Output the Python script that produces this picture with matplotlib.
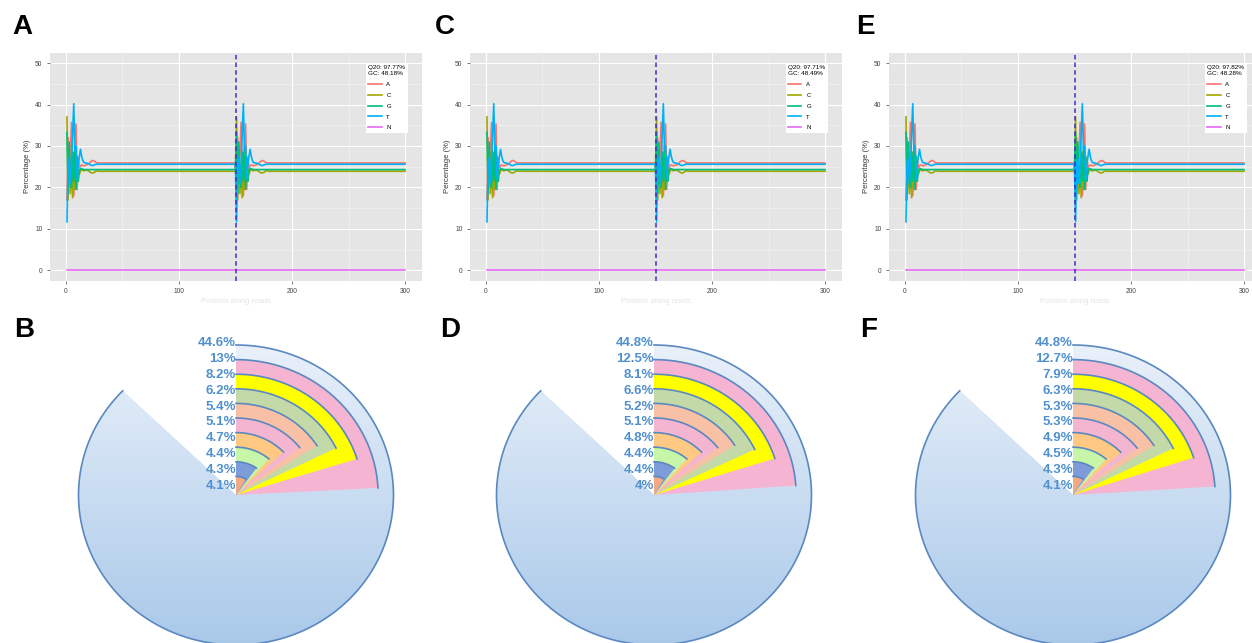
import numpy as np
import matplotlib.pyplot as plt
from matplotlib.path import Path
from matplotlib.colors import LinearSegmentedColormap

# ---------------- data ----------------
# base composition (%) over the first 30 cycles of one read, then flat
head_A = [17.0, 32.0, 22.5, 28.0, 35.7, 22.0, 18.0, 24.5, 35.3, 19.5,
          27.0, 24.8, 25.3, 25.4, 25.3, 25.2, 25.3, 25.4, 25.5, 25.6,
          25.9, 26.2, 26.4, 26.5, 26.4, 26.2, 26.0, 25.9, 25.9, 25.9]
head_C = [37.0, 17.0, 29.0, 18.5, 26.0, 17.5, 28.5, 19.5, 27.0, 21.5,
          24.5, 23.2, 24.0, 24.3, 24.1, 24.0, 24.1, 24.2, 24.1, 24.0,
          23.8, 23.6, 23.5, 23.5, 23.6, 23.8, 24.0, 24.0, 23.9, 23.9]
head_G = [33.3, 18.5, 31.0, 22.5, 20.0, 28.5, 21.5, 30.0, 19.5, 27.5,
          21.5, 24.0, 24.6, 24.5, 24.4, 24.3, 24.3, 24.3, 24.3, 24.3,
          24.3, 24.3, 24.3, 24.3, 24.3, 24.3, 24.3, 24.3, 24.3, 24.3]
head_T = [11.7, 26.0, 27.0, 21.0, 25.5, 33.0, 40.2, 29.0, 30.0, 22.0,
          25.5, 27.5, 29.2, 27.5, 26.5, 26.0, 25.9, 25.9, 25.8, 25.7,
          25.6, 25.4, 25.3, 25.3, 25.4, 25.5, 25.6, 25.6, 25.6, 25.6]
plateau = {'A': 25.9, 'C': 23.9, 'G': 24.3, 'T': 25.6}
read_len = 150

q20_labels = ['Q20: 97.77%', 'Q20: 97.71%', 'Q20: 97.82%']
gc_labels = ['GC: 48.18%', 'GC: 48.49%', 'GC: 48.28%']

# radial charts (largest first)
pie_B = [44.6, 13, 8.2, 6.2, 5.4, 5.1, 4.7, 4.4, 4.3, 4.1]
pie_D = [44.8, 12.5, 8.1, 6.6, 5.2, 5.1, 4.8, 4.4, 4.4, 4]
pie_F = [44.8, 12.7, 7.9, 6.3, 5.3, 5.3, 4.9, 4.5, 4.3, 4.1]

# ---------------- styles ----------------
base_colors = {'A': '#F8766D', 'C': '#A3A500', 'G': '#00BF7D',
               'T': '#00B0F6', 'N': '#E76BF3'}
ring_colors = ['#F5B5D2', '#FFFF00', '#C4D9A8', '#F8C1A5', '#F4B5D1',
               '#FFC983', '#C7F6A8', '#7D9CD9', '#F3A984']
arc_color = '#5A88C0'
label_color = '#5090CF'

W, H = 1252, 643
fig = plt.figure(figsize=(W / 100, H / 100), dpi=100)
plt.rcParams['font.family'] = ['Liberation Sans', 'DejaVu Sans']


def full_read(head, flat):
    one = np.concatenate([head, np.full(read_len - len(head), flat)])
    return np.concatenate([one, one])


series = {b: full_read(h, plateau[b]) for b, h in
          zip('ACGT', [head_A, head_C, head_G, head_T])}
series['N'] = np.zeros(2 * read_len)
pos = np.arange(1, 2 * read_len + 1)

# ---------------- line charts (A, C, E) ----------------
panel_left = [50, 470, 889]
for k in range(3):
    ax = fig.add_axes([panel_left[k] / W, (H - 280.7) / H, 372 / W, 228 / H])
    ax.set_facecolor('#E5E5E5')
    for b in 'ACGTN':
        ax.plot(pos, series[b], color=base_colors[b], lw=1.2, label=b)
    ax.axvline(read_len + 0.5, color='#3B2FC8', lw=1.1, ls=(0, (3, 2)))
    ax.set_xlim(-14, 315)
    ax.set_ylim(-2.5, 52.5)
    ax.set_xticks([0, 100, 200, 300])
    ax.set_yticks([0, 10, 20, 30, 40, 50])
    ax.set_xticks([50, 150, 250], minor=True)
    ax.set_yticks([5, 15, 25, 35, 45], minor=True)
    ax.grid(True, which='major', color='white', lw=0.8)
    ax.grid(True, which='minor', color='#F2F2F2', lw=0.5)
    ax.set_axisbelow(True)
    for s in ax.spines.values():
        s.set_visible(False)
    ax.tick_params(labelsize=4.8, colors='#444444', length=2, width=0.5)
    ax.tick_params(which='minor', length=0)
    ax.set_ylabel('Percentage (%)', fontsize=5.5, color='#333333', labelpad=3)
    ax.set_xlabel('Position along reads', fontsize=5.5, color='#E4E4E4', labelpad=2)
    leg = ax.legend(title=q20_labels[k] + '\n' + gc_labels[k], loc='upper right',
                    bbox_to_anchor=(0.962, 0.955), fontsize=4.3, title_fontsize=4.6,
                    frameon=True, fancybox=False, framealpha=1, edgecolor='none',
                    handlelength=2.2, labelspacing=0.95, borderaxespad=0)
    leg._legend_box.align = 'left'

# ---------------- radial charts (B, D, F) ----------------
grad_cmap = LinearSegmentedColormap.from_list('bg', ['#EAF1FA', '#A8C8E9'])
centers = [236, 654, 1073]
rmax = 155
stretch = 1.05
r_outer, r_step = 150, 14.6
bg_gap = 46  # degrees left empty in the background sector

for k, vals in enumerate([pie_B, pie_D, pie_F]):
    cx = centers[k]
    hw = rmax * stretch
    ax = fig.add_axes([(cx - hw) / W, (H - 495 - rmax) / H, 2 * hw / W, 2 * rmax / H],
                      projection='polar')
    ax.set_aspect('auto')
    ax.set_theta_zero_location('N')
    ax.set_theta_direction(-1)
    ax.set_ylim(0, rmax)
    ax.set_autoscale_on(False)
    ax.axis('off')

    n = len(vals)
    for i, v in enumerate(vals):
        rad = r_outer - r_step * i
        if i == 0:
            sweep = np.deg2rad(360 - bg_gap)
            ax.bar(0, rad, width=sweep, align='edge', color='#C8DBF0',
                   edgecolor='none', zorder=1)
            th = np.linspace(0, sweep, 300)
            verts = [(0, 0)] + list(zip(th, np.full(th.size, rad))) + [(0, 0)]
            im = ax.imshow(np.linspace(0, 1, 256).reshape(-1, 1), extent=(0, 1, 0, 1),
                           transform=ax.transAxes, cmap=grad_cmap, aspect='auto',
                           origin='upper', zorder=1.5)
            im.set_clip_path(Path(verts), ax.transData)
        else:
            rank = n - 1 - i
            sweep = np.deg2rad(22.6 + 4.8 * rank + 2.0 * v)
            ax.bar(0, rad, width=sweep, align='edge', color=ring_colors[i - 1],
                   edgecolor='none', zorder=2 + i)
            th = np.linspace(0, sweep, 200)
        ax.plot(th, np.full(th.size, rad), color=arc_color, lw=1.2, zorder=2 + i + 0.5)
        # value labels, evenly stacked along the vertical edge
        ax.text(0, 9 + 15.9 * (n - 1 - i), '%g%%' % v, ha='right', va='center',
                fontsize=9.5, fontweight='bold', color=label_color, zorder=20)

# panel letters
for t, x, y in [('A', 12, 27), ('C', 435, 27), ('E', 856, 27),
                ('B', 14, 330), ('D', 440, 330), ('F', 860, 330)]:
    fig.text(x / W, 1 - y / H, t, fontsize=20, fontweight='bold', va='center')

fig.savefig('out.png', dpi=100)
